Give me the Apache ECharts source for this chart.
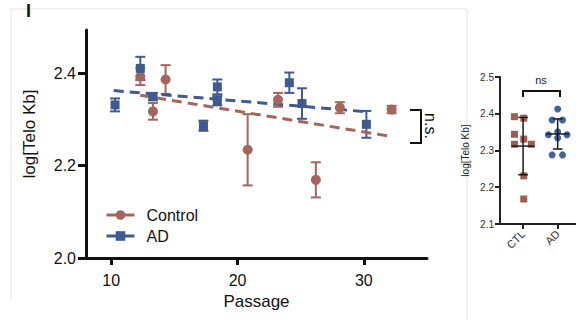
<!DOCTYPE html>
<html>
<head>
<meta charset="utf-8">
<script src="https://cdn.jsdelivr.net/npm/echarts@6/dist/echarts.min.js"></script>
<style>
  html, body { margin: 0; padding: 0; background: #fff; }
  #chart { width: 576px; height: 320px; }
</style>
</head>
<body>
<div id="chart"></div>
<script>
// main panel: telomere length vs passage (mean +/- err)
const ctlPassage = [12.3, 13.3, 14.3, 20.8, 23.2, 26.2, 28.1, 32.2]
const ctlMean = [2.392, 2.317, 2.386, 2.234, 2.342, 2.169, 2.325, 2.321]
const ctlErr = [0.018, 0.018, 0.031, 0.077, 0.015, 0.038, 0.012, 0.008]

const adPassage = [10.3, 12.3, 13.3, 17.3, 18.4, 18.4, 24.1, 25.1, 30.2]
const adMean = [2.331, 2.410, 2.349, 2.286, 2.370, 2.340, 2.379, 2.334, 2.289]
const adErr = [0.014, 0.025, 0.008, 0.011, 0.016, 0.010, 0.022, 0.033, 0.029]

// dashed fit lines (end points)
const ctlTrendX = [12.3, 31.9]
const ctlTrendY = [2.352, 2.264]
const adTrendX = [10.2, 30.3]
const adTrendY = [2.362, 2.316]

const mainXTicks = [10, 20, 30]
const mainYTicks = [2.0, 2.2, 2.4]

// small panel: per-line values
const groupLabels = ['CTL', 'AD']
const ctlX = [0.75, 1.02, 0.75, 1.02, 0.75, 1.24, 1.02, 1.02]
const ctlY = [2.392, 2.388, 2.344, 2.331, 2.317, 2.317, 2.231, 2.168]
const adX = [2.0, 1.84, 2.14, 1.73, 2.0, 2.27, 2.0, 1.84, 2.14]
const adY = [2.413, 2.383, 2.383, 2.343, 2.351, 2.343, 2.334, 2.288, 2.288]
const groupMean = [2.312, 2.345]
const groupSd = [0.078, 0.041]
const smallYTicks = [2.1, 2.2, 2.3, 2.4, 2.5]

const brown = '#a5655a'
const blue = '#3d5b8e'
const font = 'Liberation Sans, Arial, sans-serif'

const chart = echarts.init(document.getElementById('chart'), null, {renderer: 'svg'})

const errBars = (color) => (params, api) => {
    const x = api.value(0), y = api.value(1), e = api.value(2)
    const top = api.coord([x, y + e])
    const bot = api.coord([x, y - e])
    const hw = 5
    const st = {stroke: color, lineWidth: 2}
    return {
        type: 'group',
        children: [
            {type: 'line', shape: {x1: top[0], y1: top[1], x2: bot[0], y2: bot[1]}, style: st},
            {type: 'line', shape: {x1: top[0] - hw, y1: top[1], x2: top[0] + hw, y2: top[1]}, style: st},
            {type: 'line', shape: {x1: bot[0] - hw, y1: bot[1], x2: bot[0] + hw, y2: bot[1]}, style: st}
        ]
    }
}

const meanSd = (params, api) => {
    const x = api.value(0), m = api.value(1), s = api.value(2)
    const c = api.coord([x, m])
    const t = api.coord([x, m + s])
    const b = api.coord([x, m - s])
    const ml = api.coord([x - 0.33, m])[0], mr = api.coord([x + 0.33, m])[0]
    const cl = api.coord([x - 0.14, m])[0], cr = api.coord([x + 0.14, m])[0]
    const st = {stroke: '#1a1a1a', lineWidth: 1.5}
    return {
        type: 'group',
        children: [
            {type: 'line', shape: {x1: t[0], y1: t[1], x2: b[0], y2: b[1]}, style: st},
            {type: 'line', shape: {x1: ml, y1: c[1], x2: mr, y2: c[1]}, style: st},
            {type: 'line', shape: {x1: cl, y1: t[1], x2: cr, y2: t[1]}, style: st},
            {type: 'line', shape: {x1: cl, y1: b[1], x2: cr, y2: b[1]}, style: st}
        ]
    }
}

const option = {
    animation: false,
    textStyle: {fontFamily: font},
    grid: [
        {left: 86, top: 30, width: 341, height: 228},
        {left: 500, top: 77, width: 80, height: 147}
    ],
    xAxis: [
        {
            gridIndex: 0, type: 'value', min: 8, max: 35,
            name: 'Passage', nameLocation: 'middle', nameGap: 30,
            nameTextStyle: {fontSize: 17, color: '#111', fontFamily: font},
            axisLine: {lineStyle: {color: '#111', width: 3}},
            axisTick: {show: true, length: 7, lineStyle: {width: 3, color: '#111'}, customValues: mainXTicks},
            axisLabel: {fontSize: 16, color: '#111', margin: 14, customValues: mainXTicks},
            splitLine: {show: false}
        },
        {
            gridIndex: 1, type: 'value', min: 0.333, max: 2.53,
            axisLine: {lineStyle: {color: '#222', width: 2}},
            axisTick: {show: true, length: 5, lineStyle: {width: 2, color: '#222'}, customValues: [1, 2]},
            axisLabel: {
                fontSize: 11, color: '#333', rotate: 45, margin: 8, customValues: [1, 2],
                formatter: v => groupLabels[Math.round(v) - 1]
            },
            splitLine: {show: false}
        }
    ],
    yAxis: [
        {
            gridIndex: 0, type: 'value', min: 2.0, max: 2.493,
            name: 'log[Telo Kb]', nameLocation: 'middle', nameGap: 48,
            nameTextStyle: {fontSize: 17, color: '#111', fontFamily: font, padding: [0, 0, 0, 20]},
            axisLine: {lineStyle: {color: '#111', width: 3}},
            axisTick: {show: true, length: 8, lineStyle: {width: 3, color: '#111'}, customValues: mainYTicks},
            axisLabel: {fontSize: 16, color: '#111', margin: 10, customValues: mainYTicks, formatter: v => v.toFixed(1)},
            splitLine: {show: false}
        },
        {
            gridIndex: 1, type: 'value', min: 2.1, max: 2.5,
            name: 'log[Telo Kb]', nameLocation: 'middle', nameGap: 30,
            nameTextStyle: {fontSize: 10, color: '#222', fontFamily: font},
            axisLine: {lineStyle: {color: '#222', width: 2}},
            axisTick: {show: true, length: 5, lineStyle: {width: 2, color: '#222'}, customValues: smallYTicks},
            axisLabel: {fontSize: 10, color: '#333', margin: 6, customValues: smallYTicks, formatter: v => v.toFixed(1)},
            splitLine: {show: false}
        }
    ],
    legend: {
        data: ['Control', 'AD'],
        orient: 'vertical', left: 100, top: 202,
        itemWidth: 28, itemHeight: 12, itemGap: 5,
        lineStyle: {opacity: 1, width: 3},
        textStyle: {fontSize: 16, color: '#111', fontFamily: font, padding: [0, 0, 0, 7]}
    },
    series: [
        {
            name: 'ctlErr', type: 'custom', xAxisIndex: 0, yAxisIndex: 0,
            renderItem: errBars(brown), z: 2,
            data: ctlPassage.map((p, i) => [p, ctlMean[i], ctlErr[i]])
        },
        {
            name: 'adErr', type: 'custom', xAxisIndex: 0, yAxisIndex: 0,
            renderItem: errBars(blue), z: 2,
            data: adPassage.map((p, i) => [p, adMean[i], adErr[i]])
        },
        {
            name: 'ctlFit', type: 'line', xAxisIndex: 0, yAxisIndex: 0, showSymbol: false, z: 3,
            lineStyle: {color: brown, width: 3, type: [10, 6]},
            data: ctlTrendX.map((x, i) => [x, ctlTrendY[i]])
        },
        {
            name: 'adFit', type: 'line', xAxisIndex: 0, yAxisIndex: 0, showSymbol: false, z: 3,
            lineStyle: {color: blue, width: 3, type: [10, 6]},
            data: adTrendX.map((x, i) => [x, adTrendY[i]])
        },
        {
            name: 'Control', type: 'line', xAxisIndex: 0, yAxisIndex: 0, z: 4,
            symbol: 'circle', symbolSize: 10,
            itemStyle: {color: brown},
            lineStyle: {color: brown, opacity: 0},
            data: ctlPassage.map((p, i) => [p, ctlMean[i]])
        },
        {
            name: 'AD', type: 'line', xAxisIndex: 0, yAxisIndex: 0, z: 4,
            symbol: 'rect', symbolSize: 9,
            itemStyle: {color: blue},
            lineStyle: {color: blue, opacity: 0},
            data: adPassage.map((p, i) => [p, adMean[i]])
        },
        {
            name: 'ctlDots', type: 'scatter', xAxisIndex: 1, yAxisIndex: 1,
            symbol: 'rect', symbolSize: 7, itemStyle: {color: '#9f5d50', opacity: 1},
            data: ctlX.map((x, i) => [x, ctlY[i]])
        },
        {
            name: 'adDots', type: 'scatter', xAxisIndex: 1, yAxisIndex: 1,
            symbol: 'circle', symbolSize: 7, itemStyle: {color: '#3f62a0', opacity: 1},
            data: adX.map((x, i) => [x, adY[i]])
        },
        {
            name: 'groupSd', type: 'custom', xAxisIndex: 1, yAxisIndex: 1, z: 5,
            renderItem: meanSd,
            data: groupMean.map((m, i) => [i + 1, m, groupSd[i]])
        }
    ],
    graphic: [
        // light panel frame
        {type: 'polyline', silent: true, shape: {points: [[11, 300], [11, 9], [467, 9], [467, 320]]},
            style: {stroke: '#e4e4e4', lineWidth: 1, fill: null}},
        {type: 'text', left: 26, top: 2, style: {text: 'I', font: 'bold 18px ' + font, fill: '#111'}},
        // n.s. bracket
        {type: 'polyline', silent: true, shape: {points: [[410, 110], [421, 110], [421, 143], [410, 143]]},
            style: {stroke: '#111', lineWidth: 2, fill: null}},
        {type: 'text', x: 430, y: 126, rotation: -Math.PI / 2,
            style: {text: 'n.s.', font: '16px ' + font, fill: '#111', align: 'center', verticalAlign: 'middle'}},
        // ns bracket on small panel
        {type: 'polyline', silent: true, shape: {points: [[523, 97], [523, 91], [560, 91], [560, 97]]},
            style: {stroke: '#111', lineWidth: 2, fill: null}},
        {type: 'text', x: 541, y: 80,
            style: {text: 'ns', font: '11px ' + font, fill: '#222', align: 'center', verticalAlign: 'middle'}}
    ]
}

chart.setOption(option)
</script>
</body>
</html>
